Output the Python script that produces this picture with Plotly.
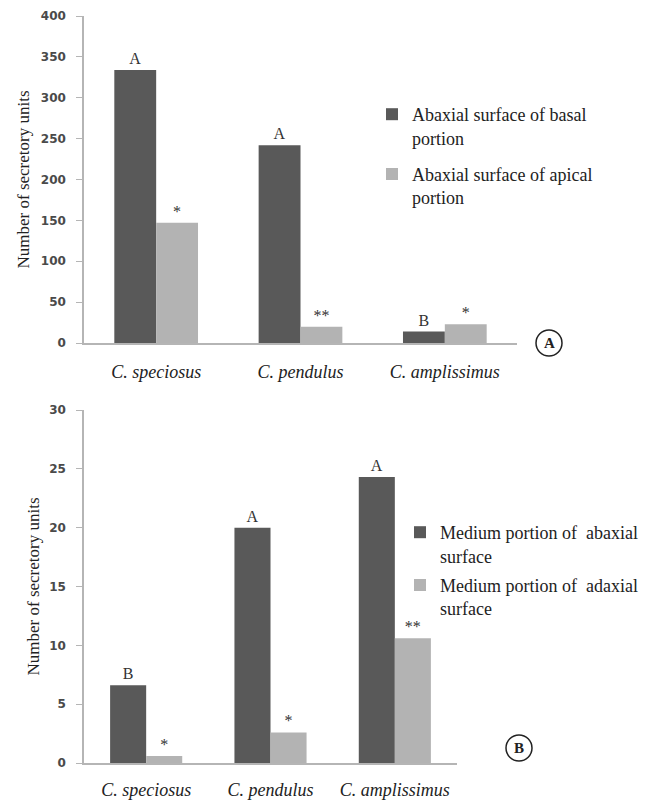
import plotly.graph_objects as go

OFF = 8  # page body margin
W, H = 649 - OFF, 803 - OFF

species = ["C. speciosus", "C. pendulus", "C. amplissimus"]
species_labels = ["<i>C. speciosus</i>", "<i>C. pendulus</i>", "<i>C. amplissimus</i>"]

# Panel A
a_basal = [334, 242, 14]
a_apical = [147, 20, 23]
a_basal_marks = ["A", "A", "B"]
a_apical_marks = ["*", "**", "*"]
a_names = ["Abaxial surface of basal<br>portion", "Abaxial surface of apical<br>portion"]
a_ticks = [0, 50, 100, 150, 200, 250, 300, 350, 400]

# Panel B
b_abaxial = [6.6, 20, 24.3]
b_adaxial = [0.6, 2.6, 10.6]
b_abaxial_marks = ["B", "A", "A"]
b_adaxial_marks = ["*", "*", "**"]
b_names = ["Medium portion of  abaxial<br>surface", "Medium portion of  adaxial<br>surface"]
b_ticks = [0, 5, 10, 15, 20, 25, 30]

DARK = "#595959"
LIGHT = "#b3b3b3"
SERIF = "Liberation Serif, DejaVu Serif, serif"
SANS = "DejaVu Sans, Verdana, sans-serif"

def px_x(p):
    return (p - OFF) / W

def px_y(p):
    return 1 - (p - OFF) / H

fig = go.Figure()

def add_bars(vals, marks, name, color, xa, ya, legend, group):
    fig.add_trace(go.Bar(
        x=species, y=vals, name=name, marker=dict(color=color, line=dict(width=0)),
        text=marks, textposition="outside", cliponaxis=False,
        textfont=dict(family=SERIF, size=16, color="#333333"),
        xaxis=xa, yaxis=ya, legend=legend, legendgroup=group,
    ))

add_bars(a_basal, a_basal_marks, a_names[0], DARK, "x", "y", "legend", "a1")
add_bars(a_apical, a_apical_marks, a_names[1], LIGHT, "x", "y", "legend", "a2")
add_bars(b_abaxial, b_abaxial_marks, b_names[0], DARK, "x2", "y2", "legend2", "b1")
add_bars(b_adaxial, b_adaxial_marks, b_names[1], LIGHT, "x2", "y2", "legend2", "b2")

axis_line = dict(showline=True, linecolor="#b5b5b5", linewidth=1.5, showgrid=False,
                 zeroline=False, automargin=False)

ytick_font = dict(family=SANS, size=12, color="#4a4a4a", weight="bold")
xtick_font = dict(family=SERIF, size=18, color="#222222")
ytitle_font = dict(family=SERIF, size=17, color="#222222")

fig.update_layout(
    width=W, height=H,
    margin=dict(l=0, r=0, t=0, b=0),
    paper_bgcolor="white", plot_bgcolor="white",
    barmode="group", bargap=0.42, bargroupgap=0,
    xaxis=dict(domain=[px_x(84), px_x(517)], anchor="y", tickvals=species, ticktext=species_labels,
               tickfont=xtick_font, ticks="", ticklabelstandoff=12, **axis_line),
    yaxis=dict(domain=[px_y(343), px_y(16)], anchor="x", range=[0, 400], tickvals=a_ticks,
               tickfont=ytick_font, ticks="outside", ticklen=6, tickcolor="#b5b5b5",
               ticklabelstandoff=8,
               title=dict(text="Number of secretory units", font=ytitle_font, standoff=7),
               **axis_line),
    xaxis2=dict(domain=[px_x(84), px_x(457)], anchor="y2", tickvals=species, ticktext=species_labels,
                tickfont=xtick_font, ticks="", ticklabelstandoff=10, **axis_line),
    yaxis2=dict(domain=[px_y(763), px_y(410)], anchor="x2", range=[0, 30], tickvals=b_ticks,
                tickfont=ytick_font, ticks="outside", ticklen=6, tickcolor="#b5b5b5",
                ticklabelstandoff=8,
                title=dict(text="Number of secretory units", font=ytitle_font, standoff=5),
                **axis_line),
    legend=dict(x=px_x(372), y=px_y(96), xanchor="left", yanchor="top",
                font=dict(family=SERIF, size=18, color="#222222"), bgcolor="rgba(0,0,0,0)",
                traceorder="grouped", tracegroupgap=10, itemwidth=30, valign="top"),
    legend2=dict(x=px_x(400), y=px_y(514), xanchor="left", yanchor="top",
                 font=dict(family=SERIF, size=18, color="#222222"), bgcolor="rgba(0,0,0,0)",
                 traceorder="grouped", tracegroupgap=3, itemwidth=30, valign="top"),
    showlegend=True,
)

# circled panel labels
for (cx, cy, lab) in [(549, 343, "A"), (519, 748, "B")]:
    r = 13
    fig.add_shape(type="circle", xref="paper", yref="paper",
                  x0=px_x(cx - r), x1=px_x(cx + r), y0=px_y(cy + r), y1=px_y(cy - r),
                  line=dict(color="#222222", width=1.5))
    fig.add_annotation(x=px_x(cx), y=px_y(cy), xref="paper", yref="paper", text="<b>%s</b>" % lab,
                       xanchor="center", yanchor="middle",
                       showarrow=False, font=dict(family=SERIF, size=15, color="#222222"))

fig.write_html("out.html")
